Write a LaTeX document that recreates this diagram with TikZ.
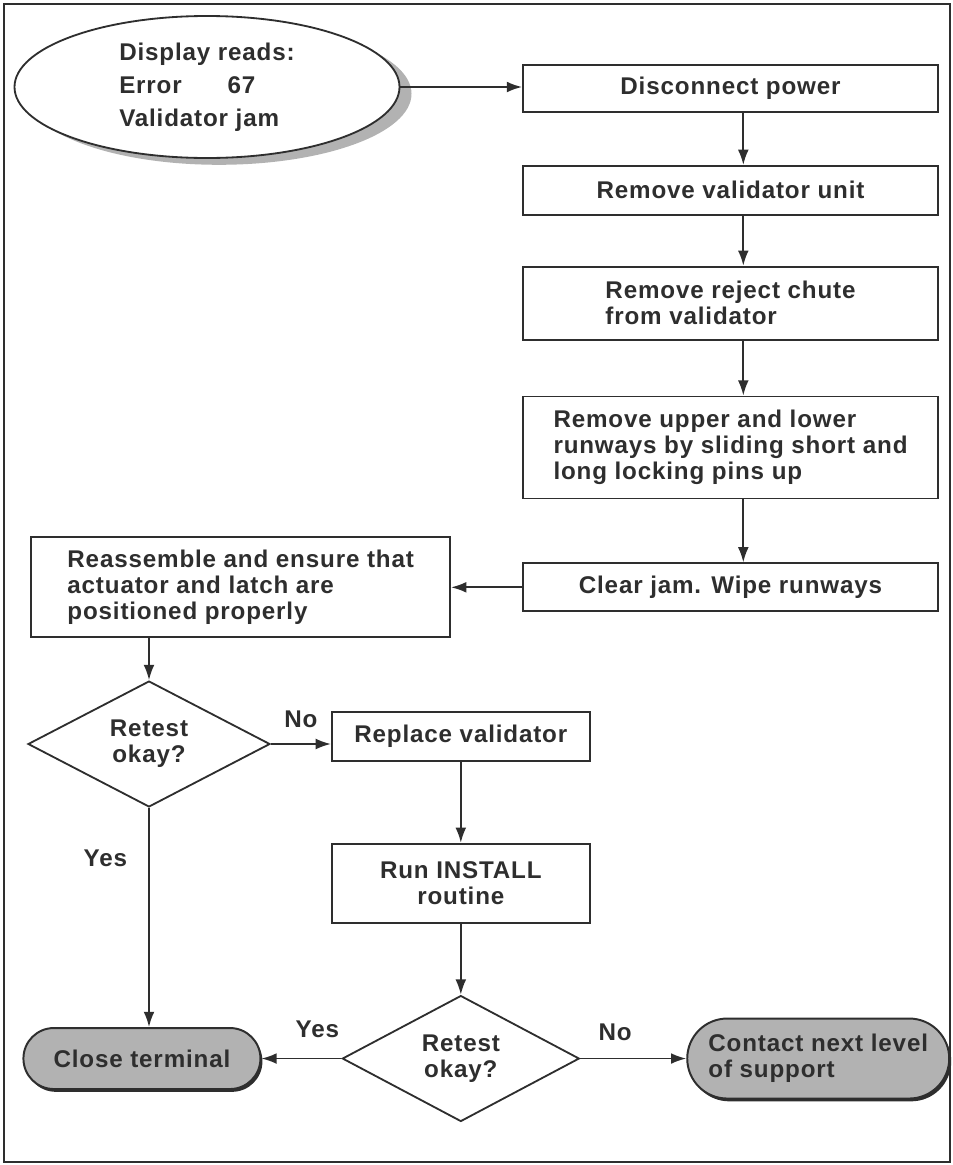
\documentclass[tikz,border=0pt]{standalone}
\usepackage{fontspec}
\setmainfont{Liberation Sans}[LetterSpace=3.5]
\usepackage{tikz}
\usetikzlibrary{arrows.meta,positioning,shapes.geometric,shadows}

\definecolor{ink}{HTML}{2E2E2E}
\definecolor{halftone}{HTML}{B2B2B2}

\begin{document}
\begin{tikzpicture}[
  node distance=1.3cm and 1.5cm,
  txt/.style={font=\fontsize{17.2}{18.6}\selectfont\bfseries,text=ink},
  start/.style={txt,ellipse,draw=ink,line width=1.3pt,fill=white,align=left,
    minimum width=9.625cm,minimum height=3.55cm,
    font=\fontsize{17.2}{23.5}\selectfont\bfseries,
    drop shadow={shadow xshift=.3cm,shadow yshift=-.17cm,fill=gray!60,opacity=1}},
  task/.style={txt,draw=ink,line width=1.3pt,minimum width=10.375cm,
    align=left,inner sep=2pt},
  ask/.style={txt,diamond,draw=ink,line width=1.3pt,align=center,inner sep=0pt},
  finish/.style={txt,draw=ink,line width=1.4pt,fill=halftone,align=left,
    inner sep=2pt,
    drop shadow={shadow xshift=.05cm,shadow yshift=-.07cm,fill=ink,opacity=1}},
  flow/.style={-{Latex[length=3.8mm,width=2.7mm]},draw=ink,line width=1.3pt},
  lbl/.style={txt,inner sep=1pt}]
\useasboundingbox (0,0) rectangle (23.8,-29.125);
\draw[ink,line width=1.1pt] (.1,-.1) rectangle (23.75,-29.05);

\node[start] (jam) at (5.175,-2.175) {Display reads:\\Error\hspace{1.9em}67\\Validator jam};
\node[task,minimum height=1.175cm] (power) at (18.2625,-2.2125) {Disconnect power};
\node[task,below=of power,minimum height=1.225cm] (unit) {Remove validator unit};
\node[task,below=1.25cm of unit,minimum height=1.825cm] (chute) {Remove reject chute\\from validator};
\node[task,below=1.375cm of chute,minimum height=2.55cm] (runways) {Remove upper and lower\\runways by sliding short and\\long locking pins up};
\node[task,below=1.575cm of runways,minimum height=1.2cm] (wipe) {Clear jam. Wipe runways};
\node[task,left=1.775cm of wipe,minimum width=10.475cm,minimum height=2.5cm] (rebuild) {Reassemble and ensure that\\actuator and latch are\\positioned properly};
\node[ask,minimum width=6.05cm,minimum height=2.8cm] (retest) at (3.725,-18.6) {Retest\\okay?};
\node[task,right=1.5cm of retest,yshift=.19cm,minimum width=6.45cm,minimum height=1.225cm] (swap) {Replace validator};
\node[task,below=2.025cm of swap,minimum width=6.45cm,minimum height=1.975cm,align=center] (install) {Run INSTALL\\routine};
\node[ask,below=1.775cm of install,minimum width=5.925cm,minimum height=2.825cm] (retestb) {Retest\\okay?};
\node[finish,left=2cm of retestb,minimum width=5.925cm,minimum height=1.525cm,rounded corners=.76cm] (close) {Close terminal};
\node[finish,right=2.65cm of retestb,minimum width=6.55cm,minimum height=2cm,rounded corners=1cm] (escalate) {Contact next level\\of support};

% main line
\draw[flow] (jam.east) -- (jam.east -| power.west);
\draw[flow] ([xshift=3.2mm]power.south) -- ([xshift=3.2mm]unit.north);
\draw[flow] ([xshift=3.2mm]unit.south) -- ([xshift=3.2mm]chute.north);
\draw[flow] ([xshift=3.2mm]chute.south) -- ([xshift=3.2mm]runways.north);
\draw[flow] ([xshift=3.2mm]runways.south) -- ([xshift=3.2mm]wipe.north);
\draw[flow] (wipe.west) -- (rebuild.east);
\draw[flow] (rebuild.south -| retest.north) -- (retest.north);
% decisions
\draw[flow] (retest.east) -- node[lbl,above=10pt]{No} (retest.east -| swap.west);
\draw[flow] (retest.south) -- node[lbl,left=14pt,pos=.23]{Yes} (retest.south |- close.north);
\draw[flow] (swap) -- (install);
\draw[flow] (install) -- (retestb);
\draw[flow] (retestb.west) -- node[lbl,above=13pt,pos=.3]{Yes} (close.east);
\draw[flow] (retestb.east) -- node[lbl,above=11pt,pos=.33]{No} (escalate.west);
\end{tikzpicture}
\end{document}
